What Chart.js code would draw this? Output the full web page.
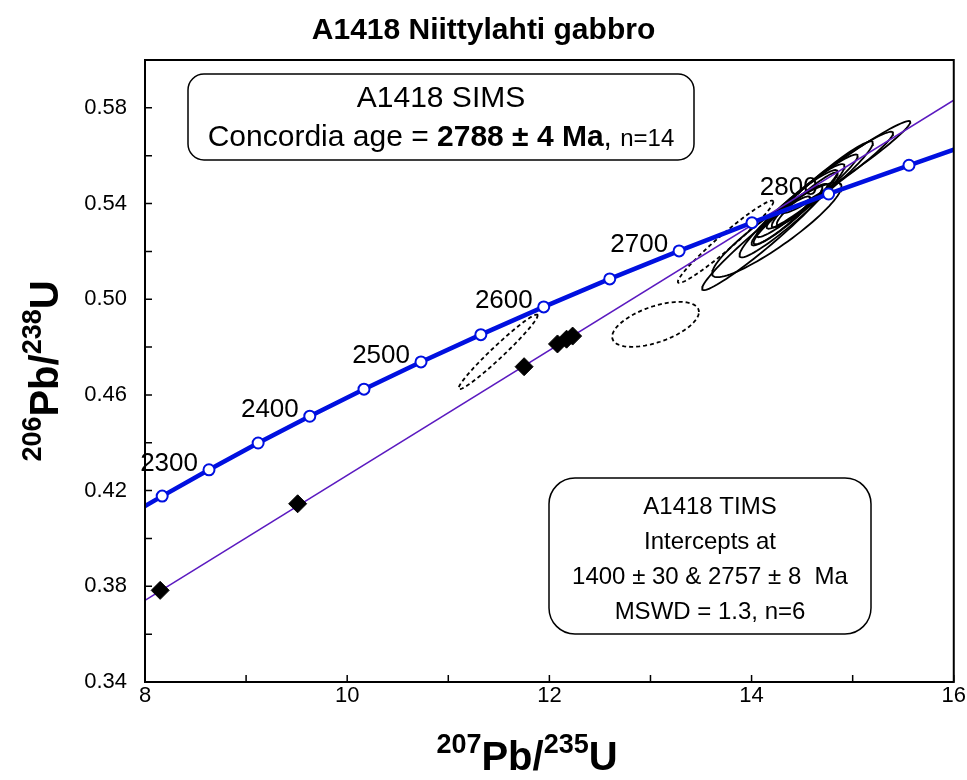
<!DOCTYPE html>
<html>
<head>
<meta charset="utf-8">
<script src="https://cdn.jsdelivr.net/npm/chart.js@4.4.1/dist/chart.umd.min.js"></script>
<style>
  html, body { margin: 0; padding: 0; background: #fff; }
</style>
</head>
<body>
<canvas id="concordia" width="967" height="780"></canvas>
<script>
// concordia reference points (every 50 Ma)
const concAges = [2250, 2300, 2350, 2400, 2450, 2500, 2550, 2600, 2650, 2700, 2750, 2800, 2850];
const concX = [8.170, 8.633, 9.119, 9.630, 10.166, 10.730, 11.322, 11.944, 12.597, 13.283, 14.004, 14.762, 15.557];
const concY = [0.4177, 0.4287, 0.4399, 0.4511, 0.4624, 0.4738, 0.4852, 0.4968, 0.5085, 0.5202, 0.5320, 0.5440, 0.5560];
// where the curve meets the frame
const concEndX = [8, 16];
const concEndY = [0.4135, 0.5625];
const labelAges = [2300, 2400, 2500, 2600, 2700, 2800];

// TIMS fractions
const timsX = [8.15, 9.51, 11.75, 12.08, 12.17, 12.23];
const timsY = [0.3783, 0.4145, 0.4718, 0.4813, 0.4833, 0.4846];

// discordia 1400 / 2757 Ma, at the frame
const discX = [8, 16];
const discY = [0.3741, 0.5832];

// SIMS ellipses: centre, 2s half widths, error correlation
const ellX   = [14.13, 14.25, 14.95, 14.85, 14.60, 14.45, 14.35, 14.30, 14.55, 14.70, 14.40, 11.493, 13.05, 13.743];
const ellY   = [0.526, 0.529, 0.556, 0.553, 0.545, 0.540, 0.535, 0.533, 0.542, 0.548, 0.537, 0.478, 0.4895, 0.524];
const ellSx  = [0.62, 0.64, 0.62, 0.55, 0.45, 0.40, 0.35, 0.28, 0.30, 0.50, 0.52, 0.391, 0.429, 0.472];
const ellSy  = [0.0222, 0.0198, 0.0185, 0.0170, 0.0155, 0.0140, 0.0125, 0.0100, 0.0110, 0.0180, 0.0195, 0.0156, 0.0094, 0.0172];
const ellRho = [0.97, 0.915, 0.975, 0.965, 0.96, 0.95, 0.94, 0.93, 0.95, 0.96, 0.955, 0.975, 0.55, 0.97];
// dashed ones are left out of the concordia age
const ellRejected = [false, false, false, false, false, false, false, false, false, false, false, true, true, true];

const FONT = "'Liberation Sans', Arial, Helvetica, sans-serif";
const BLUE = '#0010e0';
const PURPLE = '#5b1ac0';

function ellipsePoints(i) {
  const pts = [];
  const k = Math.sqrt(1 - ellRho[i] * ellRho[i]);
  for (let j = 0; j <= 90; j++) {
    const t = j / 90 * 2 * Math.PI;
    pts.push({
      x: ellX[i] + ellSx[i] * Math.cos(t),
      y: ellY[i] + ellSy[i] * (ellRho[i] * Math.cos(t) + k * Math.sin(t))
    });
  }
  return pts;
}

const datasets = [];

datasets.push({
  label: 'concordia points',
  data: concX.map((x, i) => ({ x: x, y: concY[i] })),
  showLine: false,
  pointRadius: 5.5,
  pointBackgroundColor: '#fff',
  pointBorderColor: BLUE,
  pointBorderWidth: 2,
  order: 0
});
datasets.push({
  label: 'TIMS',
  data: timsX.map((x, i) => ({ x: x, y: timsY[i] })),
  showLine: false,
  pointStyle: 'rectRot',
  pointRadius: 9,
  pointBackgroundColor: '#000',
  pointBorderColor: '#000',
  pointBorderWidth: 1,
  order: 1
});
datasets.push({
  label: 'concordia',
  data: [{ x: concEndX[0], y: concEndY[0] }]
    .concat(concX.map((x, i) => ({ x: x, y: concY[i] })))
    .concat([{ x: concEndX[1], y: concEndY[1] }]),
  showLine: true,
  borderColor: BLUE,
  borderWidth: 4.5,
  pointRadius: 0,
  order: 2
});
datasets.push({
  label: 'discordia',
  data: discX.map((x, i) => ({ x: x, y: discY[i] })),
  showLine: true,
  borderColor: PURPLE,
  borderWidth: 1.5,
  pointRadius: 0,
  order: 3
});
ellX.forEach((_, i) => {
  datasets.push({
    label: 'ellipse ' + (i + 1),
    data: ellipsePoints(i),
    showLine: true,
    borderColor: '#000',
    borderWidth: 1.8,
    borderDash: ellRejected[i] ? [4, 3] : [],
    pointRadius: 0,
    fill: false,
    order: 4
  });
});

function roundBox(ctx, x, y, w, h, r) {
  ctx.beginPath();
  ctx.moveTo(x + r, y);
  ctx.lineTo(x + w - r, y);
  ctx.arcTo(x + w, y, x + w, y + r, r);
  ctx.lineTo(x + w, y + h - r);
  ctx.arcTo(x + w, y + h, x + w - r, y + h, r);
  ctx.lineTo(x + r, y + h);
  ctx.arcTo(x, y + h, x, y + h - r, r);
  ctx.lineTo(x, y + r);
  ctx.arcTo(x, y, x + r, y, r);
  ctx.closePath();
  ctx.fillStyle = '#fff';
  ctx.fill();
  ctx.lineWidth = 1.5;
  ctx.strokeStyle = '#000';
  ctx.stroke();
}

// draws runs of text with different fonts, centred on cx
function drawRuns(ctx, runs, cx, y) {
  let total = 0;
  runs.forEach(r => { ctx.font = r.font; total += ctx.measureText(r.text).width; });
  let x = cx - total / 2;
  ctx.textAlign = 'left';
  runs.forEach(r => {
    ctx.font = r.font;
    ctx.fillText(r.text, x, y + (r.rise || 0));
    x += ctx.measureText(r.text).width;
  });
}

function isotopeLabel(a, b) {
  const big = 'bold 40px ' + FONT, sup = 'bold 27px ' + FONT;
  return [
    { text: a, font: sup, rise: -17 },
    { text: 'Pb/', font: big },
    { text: b, font: sup, rise: -17 },
    { text: 'U', font: big }
  ];
}

const decor = {
  id: 'decor',
  beforeDatasetsDraw(chart) {
    const ctx = chart.ctx, xs = chart.scales.x, ys = chart.scales.y;
    ctx.save();
    ctx.fillStyle = '#000';
    ctx.font = '26px ' + FONT;
    ctx.textAlign = 'right';
    ctx.textBaseline = 'alphabetic';
    labelAges.forEach(age => {
      const i = concAges.indexOf(age);
      ctx.fillText(String(age), xs.getPixelForValue(concX[i]) - 11, ys.getPixelForValue(concY[i]) + 1);
    });
    ctx.restore();
  },
  afterDraw(chart) {
    const ctx = chart.ctx, a = chart.chartArea, xs = chart.scales.x, ys = chart.scales.y;
    ctx.save();
    // frame and inward ticks
    ctx.strokeStyle = '#000';
    ctx.lineWidth = 2;
    ctx.strokeRect(a.left, a.top, a.right - a.left, a.bottom - a.top);
    ctx.lineWidth = 1.5;
    ctx.beginPath();
    xs.ticks.forEach(t => {
      const px = xs.getPixelForValue(t.value);
      ctx.moveTo(px, a.bottom);
      ctx.lineTo(px, a.bottom - 7);
    });
    ys.ticks.forEach(t => {
      const py = ys.getPixelForValue(t.value);
      ctx.moveTo(a.left, py);
      ctx.lineTo(a.left + 7, py);
    });
    ctx.stroke();

    ctx.fillStyle = '#000';
    ctx.textBaseline = 'alphabetic';

    // title
    ctx.font = 'bold 30px ' + FONT;
    ctx.textAlign = 'center';
    ctx.fillText('A1418 Niittylahti gabbro', 483.5, 39);

    // SIMS box
    roundBox(ctx, 188, 74, 506, 86, 16);
    ctx.fillStyle = '#000';
    ctx.font = '30px ' + FONT;
    ctx.textAlign = 'center';
    ctx.fillText('A1418 SIMS', 441, 107);
    drawRuns(ctx, [
      { text: 'Concordia age = ', font: '30px ' + FONT },
      { text: '2788 ± 4 Ma', font: 'bold 30px ' + FONT },
      { text: ', ', font: '30px ' + FONT },
      { text: 'n=14', font: '24px ' + FONT }
    ], 441, 146);

    // TIMS box
    roundBox(ctx, 549, 478, 322, 156, 26);
    ctx.fillStyle = '#000';
    ctx.font = '24px ' + FONT;
    ctx.textAlign = 'center';
    ctx.fillText('A1418 TIMS', 710, 514);
    ctx.fillText('Intercepts at', 710, 549);
    ctx.fillText('1400 ± 30 & 2757 ± 8  Ma', 710, 584);
    ctx.fillText('MSWD = 1.3, n=6', 710, 619);

    // axis titles
    drawRuns(ctx, isotopeLabel('207', '235'), 527, 770);
    ctx.translate(58, (a.top + a.bottom) / 2);
    ctx.rotate(-Math.PI / 2);
    drawRuns(ctx, isotopeLabel('206', '238'), 0, 0);
    ctx.restore();
  }
};

new Chart(document.getElementById('concordia'), {
  type: 'scatter',
  data: { datasets: datasets },
  options: {
    responsive: false,
    animation: false,
    devicePixelRatio: 1,
    layout: { padding: { top: 60, right: 2, left: 0, bottom: 0 } },
    plugins: {
      legend: { display: false },
      tooltip: { enabled: false }
    },
    scales: {
      x: {
        type: 'linear',
        min: 8,
        max: 16,
        grid: { display: false, drawTicks: false },
        border: { display: false },
        ticks: {
          stepSize: 1,
          autoSkip: false,
          maxRotation: 0,
          padding: 1,
          color: '#000',
          font: { family: FONT, size: 22 },
          callback: v => (Math.round(v) % 2 === 0 ? String(Math.round(v)) : '')
        },
        afterFit: s => { s.height = 98; }
      },
      y: {
        type: 'linear',
        min: 0.34,
        max: 0.60,
        grid: { display: false, drawTicks: false },
        border: { display: false },
        ticks: {
          stepSize: 0.02,
          autoSkip: false,
          padding: 18,
          color: '#000',
          font: { family: FONT, size: 22 },
          callback: v => {
            const k = Math.round((v - 0.34) / 0.02);
            return (k % 2 === 0 && k < 13) ? v.toFixed(2) : '';
          }
        },
        afterFit: s => { s.width = 145; }
      }
    }
  },
  plugins: [decor]
});
</script>
</body>
</html>
